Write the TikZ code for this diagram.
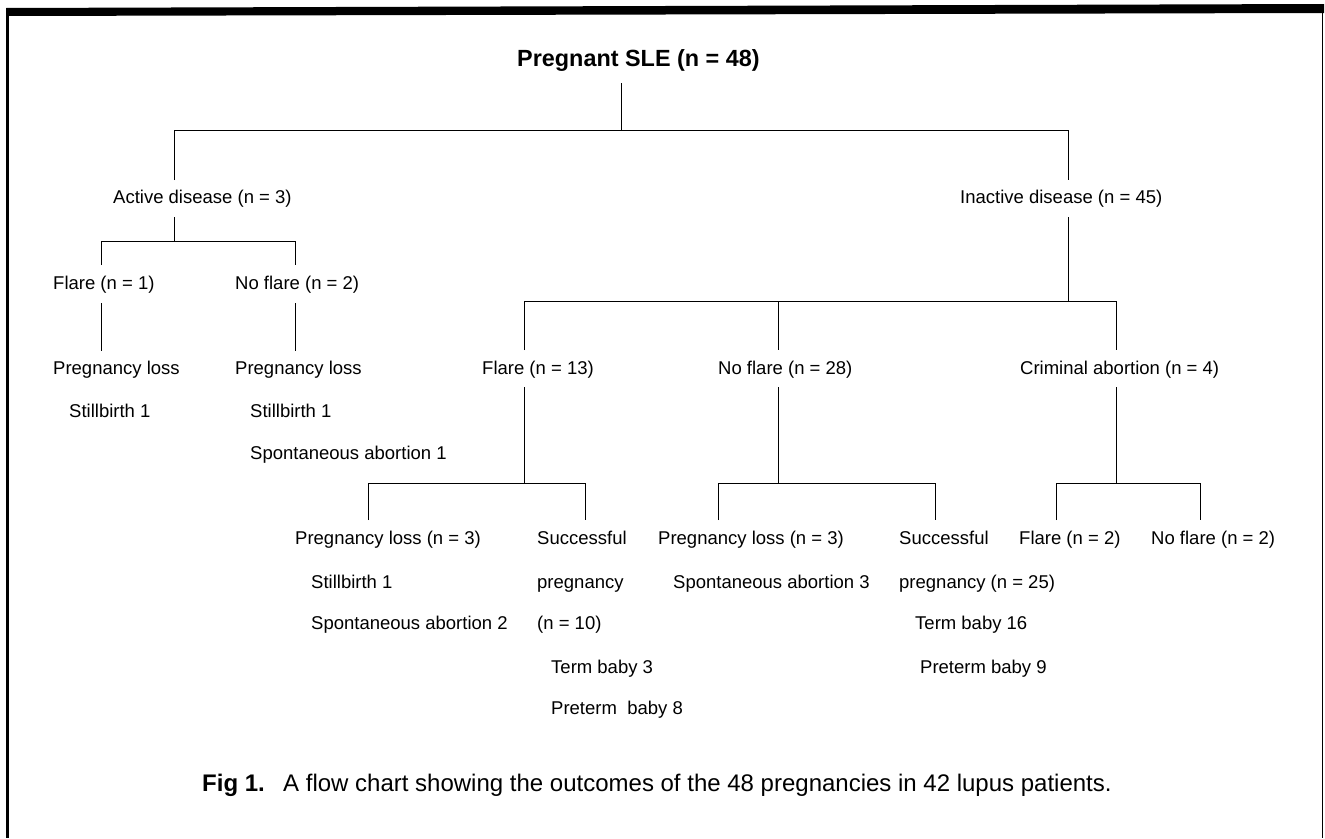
\documentclass[tikz,border=0pt]{standalone}
\usepackage{fontspec}
\setmainfont{Liberation Sans}
\begin{document}
\begin{tikzpicture}[x=1pt,y=-1pt,
  lbl/.style={anchor=base west,inner sep=0pt,font=\fontsize{18.5}{22}\selectfont},
  ttl/.style={anchor=base west,inner sep=0pt,font=\fontsize{23.4}{28}\selectfont\bfseries},
  captxt/.style={anchor=base west,inner sep=0pt,font=\fontsize{24}{29}\selectfont},
  conn/.style={draw=black,line width=0.9pt}]
\useasboundingbox (0,0) rectangle (1325,838);
\fill[white] (0,0) rectangle (1325,838);
% frame
\fill[black] (6,8) -- (1324,4) -- (1324,13) -- (6,16) -- cycle;
\draw[line width=2.5pt] (7.5,8) -- (7.5,838);
\draw[line width=1.5pt] (1322.5,4) -- (1322.5,838);
% texts
\node[ttl] (title) at (517,66.5) {Pregnant SLE (n = 48)};
\node[lbl] (act) at (113,203.6) {Active disease (n = 3)};
\node[lbl] (inact) at (960,203.6) {Inactive disease (n = 45)};
\node[lbl] (f1) at (53,289.6) {Flare (n = 1)};
\node[lbl] (nf2) at (235,289.6) {No flare (n = 2)};
\node[lbl] (pl1) at (53,374.6) {Pregnancy loss};
\node[lbl] (pl2) at (235,374.6) {Pregnancy loss};
\node[lbl] (sb1) at (69,417.6) {Stillbirth 1};
\node[lbl] (sb2) at (250,417.6) {Stillbirth 1};
\node[lbl] (sa1) at (250,459.6) {Spontaneous abortion 1};
\node[lbl] (f13) at (482,374.6) {Flare (n = 13)};
\node[lbl] (nf28) at (718,374.6) {No flare (n = 28)};
\node[lbl] (crim) at (1020,374.6) {Criminal abortion (n = 4)};
\node[lbl] (pl3a) at (295,544.6) {Pregnancy loss (n = 3)};
\node[lbl] (suc1) at (537,544.6) {Successful};
\node[lbl] (pl3b) at (658,544.6) {Pregnancy loss (n = 3)};
\node[lbl] (suc2) at (899,544.6) {Successful};
\node[lbl] (f2) at (1019,544.6) {Flare (n = 2)};
\node[lbl] (nf2b) at (1151,544.6) {No flare (n = 2)};
\node[lbl] (sb3) at (311,588.6) {Stillbirth 1};
\node[lbl] (preg10) at (537,588.6) {pregnancy};
\node[lbl] (sa3) at (673,588.6) {Spontaneous abortion 3};
\node[lbl] (preg25) at (899,588.6) {pregnancy (n = 25)};
\node[lbl] (sa2) at (311,629.6) {Spontaneous abortion 2};
\node[lbl] (n10) at (537,629.6) {(n = 10)};
\node[lbl] (tb16) at (915,629.6) {Term baby 16};
\node[lbl] (tb3) at (551,673.6) {Term baby 3};
\node[lbl] (ptb9) at (920,673.6) {Preterm baby 9};
\node[lbl] (ptb8) at (551,714.6) {Preterm\ \ baby 8};
\node[captxt,font=\fontsize{24}{29}\selectfont\bfseries] (fig) at (202,791.6) {Fig 1.};
\node[captxt] (caption) at (283,791.6) {A flow chart showing the outcomes of the 48 pregnancies in 42 lupus patients.};
% junction coordinates
\coordinate (t0) at (621,83);   \coordinate (t1) at (621,130);
\coordinate (aL) at (174,130);  \coordinate (aR) at (1068,130);
\coordinate (aLd) at (174,180); \coordinate (aRd) at (1068,180);
\coordinate (b0) at (174,217);  \coordinate (b1) at (174,241);
\coordinate (bL) at (101,241);  \coordinate (bR) at (295,241);
\coordinate (bLd) at (101,265); \coordinate (bRd) at (295,265);
\coordinate (c1u) at (101,303); \coordinate (c1d) at (101,351);
\coordinate (c2u) at (295,303); \coordinate (c2d) at (295,351);
\coordinate (d0) at (1068,217); \coordinate (d1) at (1068,301);
\coordinate (dL) at (524,301);  \coordinate (dM) at (778,301); \coordinate (dR) at (1116,301);
\coordinate (dLd) at (524,350); \coordinate (dMd) at (778,350); \coordinate (dRd) at (1116,350);
\coordinate (e0) at (524,387);  \coordinate (e1) at (524,483);
\coordinate (eL) at (368,483);  \coordinate (eR) at (585,483);
\coordinate (eLd) at (368,520); \coordinate (eRd) at (585,520);
\coordinate (g0) at (778,387);  \coordinate (g1) at (778,483);
\coordinate (gL) at (718,483);  \coordinate (gR) at (935,483);
\coordinate (gLd) at (718,520); \coordinate (gRd) at (935,520);
\coordinate (h0) at (1116,387); \coordinate (h1) at (1116,483);
\coordinate (hL) at (1056,483); \coordinate (hR) at (1200,483);
\coordinate (hLd) at (1056,520);\coordinate (hRd) at (1200,520);
% connectors
\draw[conn] (t0) -- (t1);
\draw[conn] (aLd) -- (aL) -- (aR) -- (aRd);
\draw[conn] (b0) -- (b1);
\draw[conn] (bLd) -- (bL) -- (bR) -- (bRd);
\draw[conn] (c1u) -- (c1d);
\draw[conn] (c2u) -- (c2d);
\draw[conn] (d0) -- (d1);
\draw[conn] (dLd) -- (dL) -- (dR) -- (dRd);
\draw[conn] (dM) -- (dMd);
\draw[conn] (e0) -- (e1);
\draw[conn] (eLd) -- (eL) -- (eR) -- (eRd);
\draw[conn] (g0) -- (g1);
\draw[conn] (gLd) -- (gL) -- (gR) -- (gRd);
\draw[conn] (h0) -- (h1);
\draw[conn] (hLd) -- (hL) -- (hR) -- (hRd);
\end{tikzpicture}
\end{document}
